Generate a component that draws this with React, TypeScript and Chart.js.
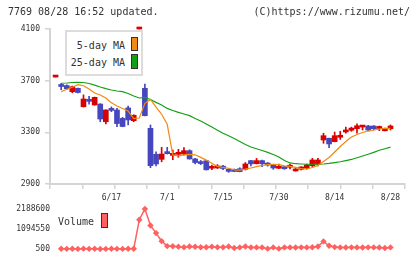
import React, { useEffect, useRef } from "react";
import { Chart, registerables } from "chart.js";

Chart.register(...registerables);

// ---- data ----
const dates = ["6/3","6/4","6/5","6/6","6/9","6/10","6/11","6/12","6/13","6/16","6/17","6/18","6/19","6/20","6/23","6/24","6/25","6/26","6/27","6/30","7/1","7/2","7/3","7/4","7/7","7/8","7/9","7/10","7/11","7/14","7/15","7/16","7/17","7/18","7/22","7/23","7/24","7/25","7/28","7/29","7/30","7/31","8/1","8/4","8/5","8/6","8/7","8/8","8/12","8/13","8/14","8/15","8/18","8/19","8/20","8/21","8/22","8/25","8/26","8/27","8/28"];

const opens = [3728, 3666,3662,3615,3641,3498,3556,3512,3519,3382,3480, 3473,3408,3489,3390,4132,3641,3331,3130,3091,3150, 3122,3130,3132,3158,3094,3073,3080,3022,3024,3038, 3014,3014,3018,3014,3081,3057,3081,3062,3050,3022, 3033,3030,3001,3014,3022,3042,3053,3241,3254,3228, 3262,3303,3316,3328,3341,3349,3349,3330,3312,3328];
const highs = [3728, 3680,3668,3658,3643,3590,3578,3573,3522,3475,3497, 3486,3416,3504,3436,4132,3674,3357,3150,3184,3184, 3163,3168,3181,3165,3098,3082,3082,3047,3050,3045, 3018,3016,3026,3066,3084,3098,3085,3066,3052,3055, 3036,3055,3020,3034,3055,3099,3099,3293,3256,3302, 3308,3340,3340,3365,3352,3355,3352,3349,3333,3357];
const lows = [3728, 3630,3632,3606,3606,3496,3519,3510,3382,3365,3460, 3344,3343,3357,3382,4132,3427,3026,3040,3072,3132, 3088,3107,3124,3092,3055,3050,3008,3010,3020,3010, 2990,2995,2994,3008,3040,3055,3034,3038,3014,3018, 3014,3016,3000,3008,3015,3034,3040,3215,3181,3226, 3245,3293,3308,3293,3318,3313,3318,3313,3310,3318];
const closes = [3728, 3655,3638,3653,3608,3558,3540,3571,3403,3473,3470, 3368,3345,3396,3432,4132,3429,3042,3055,3132,3135, 3130,3135,3158,3094,3066,3058,3010,3030,3028,3020, 2998,2997,2996,3055,3056,3081,3057,3047,3024,3028, 3018,3040,3016,3032,3047,3086,3086,3274,3210,3274, 3268,3318,3333,3351,3349,3318,3328,3336,3330,3349];

const ma5 = [null, 3615,3633,3649,3669,3661,3635,3604,3589,3566,3529, 3504,3485,3465,3407,3411,3525,3555,3495,3440,3362, 3125,3118,3125,3130,3126,3106,3085,3060,3036,3028, 3022,3010,3008,3015,3024,3034,3044,3050,3053,3050, 3040,3037,3029,3019,3016,3028,3044,3075,3105,3148, 3190,3229,3264,3283,3299,3310,3318,3326,3330,3331];
const ma25 = [null, 3680,3682,3686,3687,3686,3678,3666,3651,3638,3628, 3620,3615,3601,3581,3566,3570,3554,3532,3512,3485, 3469,3454,3442,3429,3407,3388,3365,3341,3316,3293, 3274,3252,3229,3206,3186,3173,3159,3145,3128,3109, 3082,3063,3057,3055,3053,3053,3053,3055,3059,3066, 3072,3081,3090,3103,3117,3130,3145,3161,3173,3186];
const volumes = [null, 12000,8000,15000,6000,20000,9000,11000,500,7000,14000, 10000,5000,18000,16000,1600000,2188600,1290000,870000,430000,160000, 150000,130000,100000,140000,120000,100000,95000,130000,100000,100000, 140000,55000,88000,140000,88000,88000,88000,20000,88000,20000, 88000,88000,80000,90000,88000,95000,140000,416000,180000,105000, 88000,85000,90000,88000,86000,90000,88000,85000,55000,88000];

const priceTicks = [2900, 3300, 3700, 4100];
const volumeTicks = [500, 1094550, 2188600];
const xTickLabels = ["6/17", "7/1", "7/15", "7/30", "8/14", "8/28"];

// ---- styling ----
const MONO = "'DejaVu Sans Mono', 'Liberation Mono', monospace";
const TEXT = "#333333";
const AXIS = "#d4d4d4";
const UP = "#d80000";
const DOWN = "#4646be";
const ORANGE = "#f08a10";
const GREEN = "#14a014";
const VOL = "#ff6060";
const X_MIN = -2;
const X_MAX = 61.6;

const xOf = (i: number) => i - 1;
const xTickPos = xTickLabels.map((l) => xOf(dates.indexOf(l)));

export default function App() {
  const mainRef = useRef<HTMLCanvasElement | null>(null);
  const volRef = useRef<HTMLCanvasElement | null>(null);

  useEffect(() => {
    document.body.style.margin = "0";
    const candleColors = dates.map((_, i) => (closes[i] >= opens[i] ? UP : DOWN));

    const main = new Chart(mainRef.current as HTMLCanvasElement, {
      type: "bar",
      data: {
        datasets: [
          {
            type: "line",
            label: "5-day MA",
            data: ma5.map((v, i) => ({ x: xOf(i), y: v })) as any,
            borderColor: ORANGE,
            borderWidth: 1.2,
            pointRadius: 0,
            tension: 0,
            order: 0,
          },
          {
            type: "line",
            label: "25-day MA",
            data: ma25.map((v, i) => ({ x: xOf(i), y: v })) as any,
            borderColor: GREEN,
            borderWidth: 1.2,
            pointRadius: 0,
            tension: 0,
            order: 0,
          },
          {
            type: "bar",
            label: "body",
            data: dates.map((_, i) => ({ x: xOf(i), y: [opens[i], closes[i]] })) as any,
            backgroundColor: candleColors,
            barThickness: 5,
            minBarLength: 2,
            grouped: false,
            order: 1,
            clip: false as any,
          },
          {
            type: "bar",
            label: "wick",
            data: dates.map((_, i) => ({ x: xOf(i), y: [lows[i], highs[i]] })) as any,
            backgroundColor: candleColors,
            barThickness: 1,
            minBarLength: 1,
            grouped: false,
            order: 2,
            clip: false as any,
          },
        ],
      },
      options: {
        responsive: false,
        animation: false,
        events: [],
        layout: { padding: { top: 29, right: 15, left: 0, bottom: 0 } },
        plugins: { legend: { display: false }, tooltip: { enabled: false } },
        scales: {
          x: {
            type: "linear",
            position: "bottom",
            min: X_MIN,
            max: X_MAX,
            offset: false,
            grid: { display: true, drawOnChartArea: false, drawTicks: true, tickLength: 5, color: AXIS, lineWidth: 1.5, offset: false },
            border: { display: true, color: AXIS, width: 2 },
            ticks: { display: false },
            afterBuildTicks: (s: any) => {
              s.ticks = Array.from({ length: 12 }, (_, k) => ({ value: X_MIN + (k * (X_MAX - X_MIN)) / 11 }));
            },
            afterFit: (s: any) => {
              s.height = 6;
            },
          },
          x2: {
            type: "linear",
            position: "bottom",
            min: X_MIN,
            max: X_MAX,
            offset: false,
            grid: { display: false, drawTicks: false },
            border: { display: false },
            ticks: {
              font: { family: MONO, size: 8 },
              color: TEXT,
              padding: 3,
              maxRotation: 0,
              autoSkip: false,
              callback: (v: any) => {
                const k = xTickPos.indexOf(Number(v));
                return k >= 0 ? xTickLabels[k] : "";
              },
            },
            afterBuildTicks: (s: any) => {
              s.ticks = xTickPos.map((v) => ({ value: v }));
            },
            afterFit: (s: any) => {
              s.height = 16;
            },
          },
          y: {
            type: "linear",
            position: "left",
            min: 2900,
            max: 4100,
            grid: { drawOnChartArea: false, drawTicks: true, tickLength: 5, color: AXIS, lineWidth: 1.5 },
            border: { display: true, color: AXIS, width: 2 },
            ticks: { font: { family: MONO, size: 8 }, color: TEXT, padding: 5, callback: (v: any) => String(v) },
            afterBuildTicks: (s: any) => {
              s.ticks = priceTicks.map((v) => ({ value: v }));
            },
            afterFit: (s: any) => {
              s.width = 50;
            },
          },
        } as any,
      },
    });

    const vol = new Chart(volRef.current as HTMLCanvasElement, {
      type: "line",
      data: {
        datasets: [
          {
            label: "Volume",
            data: volumes.map((v, i) => ({ x: xOf(i), y: v })) as any,
            borderColor: VOL,
            borderWidth: 1.5,
            pointStyle: "rectRot",
            pointRadius: 3.2,
            pointBackgroundColor: VOL,
            pointBorderColor: VOL,
            pointBorderWidth: 0,
            tension: 0,
            clip: false as any,
          },
        ],
      },
      options: {
        responsive: false,
        animation: false,
        events: [],
        layout: { padding: { top: 13, right: 15, left: 0, bottom: 10 } },
        plugins: { legend: { display: false }, tooltip: { enabled: false } },
        scales: {
          x: { type: "linear", display: false, min: X_MIN, max: X_MAX },
          y: {
            type: "linear",
            min: 500,
            max: 2188600,
            grid: { display: false, drawTicks: false },
            border: { display: false },
            ticks: { font: { family: MONO, size: 8 }, color: TEXT, padding: 0, callback: (v: any) => String(v) },
            afterBuildTicks: (s: any) => {
              s.ticks = volumeTicks.map((v) => ({ value: v }));
            },
            afterFit: (s: any) => {
              s.width = 50;
            },
          },
        } as any,
      },
    });

    return () => {
      main.destroy();
      vol.destroy();
    };
  }, []);

  const textStyle: React.CSSProperties = {
    position: "absolute",
    fontFamily: MONO,
    fontSize: 10,
    color: TEXT,
    whiteSpace: "pre",
    lineHeight: "12px",
  };

  return (
    <div style={{ position: "absolute", left: 0, top: 0, width: 420, height: 259, background: "#fff", overflow: "hidden" }}>
      <canvas ref={mainRef} width={420} height={206} style={{ position: "absolute", left: 0, top: 0 }} />
      <canvas ref={volRef} width={420} height={63} style={{ position: "absolute", left: 0, top: 196 }} />

      <div style={{ ...textStyle, left: 8, top: 6 }}>7769 08/28 16:52 updated.</div>
      <div style={{ ...textStyle, right: 10, top: 6 }}>(C)https://www.rizumu.net/</div>

      <div
        style={{
          position: "absolute",
          left: 65,
          top: 30,
          width: 78,
          height: 46,
          boxSizing: "border-box",
          border: "2px solid #dcdcdc",
          background: "#fff",
        }}
      >
        <div style={{ ...textStyle, right: 16, top: 8 }}>5-day MA</div>
        <div style={{ position: "absolute", left: 64, top: 5, width: 7, height: 14, boxSizing: "border-box", border: "1px solid #333", background: ORANGE }} />
        <div style={{ ...textStyle, right: 16, top: 25 }}>25-day MA</div>
        <div style={{ position: "absolute", left: 64, top: 22, width: 7, height: 15, boxSizing: "border-box", border: "1px solid #333", background: GREEN }} />
      </div>

      <div style={{ ...textStyle, left: 58, top: 216 }}>Volume</div>
      <div style={{ position: "absolute", left: 101, top: 213, width: 7, height: 15, boxSizing: "border-box", border: "1px solid #333", background: VOL }} />
    </div>
  );
}
